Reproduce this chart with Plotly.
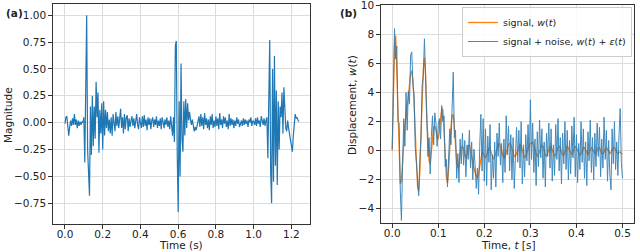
import plotly.graph_objects as go

# ---------------- Panel (a): audio waveform ----------------
dt_a = 0.005
mag_a = [
    -0.01, 0.05, 0.06, -0.05, -0.12, -0.04, 0.02, -0.03, 0.04, -0.02,
    0.08, -0.02, 0.03, -0.05, 0.02, -0.03, 0.01, -0.02, 0.01, 0.00,
    0.05, -0.37, 0.58, 1.00, -0.25, -0.55, -0.68, 0.15, -0.30, 0.25,
    -0.22, 0.15, -0.15, 0.38, 0.05, 0.28, -0.28, 0.12, -0.10, 0.18,
    -0.25, 0.20, -0.12, 0.12, -0.05, 0.10, -0.08, 0.03, -0.10, 0.05,
    -0.12, 0.08, 0.02, -0.08, 0.10, -0.03, 0.06, -0.05, 0.04, 0.13,
    -0.05, 0.05, -0.10, 0.08, -0.06, 0.05, 0.07, -0.08, 0.04, -0.04,
    0.02, 0.06, -0.03, 0.04, -0.05, 0.02, 0.08, -0.02, -0.06, 0.05,
    0.01, -0.05, 0.06, -0.04, 0.07, -0.03, 0.03, -0.07, 0.05, -0.02,
    0.04, -0.06, 0.02, 0.05, -0.04, 0.03, -0.02, 0.06, -0.05, 0.02,
    -0.03, 0.04, -0.06, 0.05, 0.01, -0.05, 0.03, -0.02, 0.05, -0.04,
    0.02, -0.06, 0.06, -0.08, -0.12, 0.05, -0.18, 0.72, 0.76, -0.30,
    -0.83, 0.20, -0.50, 0.55, -0.15, -0.27, 0.20, -0.12, 0.22, -0.05,
    0.18, 0.02, 0.10, 0.03, -0.02, 0.03, -0.06, -0.08, -0.04, -0.07,
    -0.03, 0.02, 0.06, -0.04, 0.08, -0.03, 0.05, -0.06, 0.09, -0.02,
    0.04, -0.05, 0.03, -0.07, 0.06, -0.02, 0.08, -0.05, 0.02, -0.04,
    0.06, -0.03, 0.04, -0.06, 0.09, -0.02, 0.03, -0.05, 0.06, -0.01,
    0.05, -0.04, 0.02, -0.06, 0.08, -0.03, 0.04, -0.02, 0.03, -0.05,
    0.02, -0.03, 0.05, -0.01, 0.03, -0.04, 0.01, 0.02, -0.03, 0.04,
    -0.02, 0.03, -0.01, 0.02, -0.04, 0.03, 0.00, 0.05, -0.03, 0.02,
    0.01, -0.02, 0.04, -0.03, 0.05, -0.01, 0.02, -0.04, 0.06, 0.01,
    -0.02, 0.04, -0.03, 0.02, 0.05, -0.33, 0.47, 0.77, -0.45, -0.75,
    0.50, -0.55, 0.62, -0.40, 0.30, -0.58, 0.20, -0.25, 0.15, 0.05,
    0.28, -0.10, 0.33, 0.05, -0.05, -0.08, 0.02, -0.05, -0.10, -0.15,
    -0.20, -0.27, -0.12, 0.02, 0.08, 0.04, 0.05, 0.02, 0.01,
]
time_a = [round(i * dt_a, 4) for i in range(len(mag_a))]

# ---------------- Panel (b): displacement ----------------
dt_b = 0.0025
signal_b = [
    0.0, 3.5, 7.2, 7.9, 5.5, 2.2, -0.6, -2.3, -2.1, -0.5,
    1.0, 1.8, 2.3, 3.0, 3.8, 4.6, 5.3, 5.5, 4.8, 3.2,
    1.0, -1.2, -2.5, -2.8, -1.5, 1.2, 3.8, 5.6, 6.4, 5.2,
    2.4, 0.3, -0.7, -0.9, -0.1, 1.0, 1.6, 1.7, 1.4, 0.9,
    0.8, 1.4, 2.3, 2.9, 2.8, 1.6, -0.2, -1.8, -2.2, -1.3,
    0.3, 1.6, 2.4, 2.5, 1.6, 0.2, -0.8, -1.2, -0.9, -0.3,
    0.2, 0.3, 0.1, -0.3, -0.5, -0.2, 0.3, 0.4, 0.0, -0.6,
    -1.0, -1.2, -1.5, -1.8, -1.9, -1.6, -1.0, -0.4, -0.1, -0.2,
    -0.4, -0.5, -0.3, 0.0, 0.2, 0.1, -0.2, -0.5, -0.6, -0.4,
    -0.1, 0.2, 0.4, 0.5, 0.3, 0.0, -0.3, -0.5, -0.4, -0.1,
    0.2, 0.4, 0.5, 0.4, 0.1, -0.2, -0.4, -0.4, -0.2, 0.1,
    0.3, 0.4, 0.3, 0.0, -0.3, -0.5, -0.4, -0.1, 0.2, 0.4,
    0.5, 0.5, 0.6, 0.4, 0.1, -0.2, -0.4, -0.3, 0.0, 0.3,
    0.4, 0.3, 0.0, -0.3, -0.4, -0.2, 0.1, 0.3, 0.3, 0.1,
    -0.2, -0.4, -0.3, 0.0, 0.2, 0.3, 0.2, -0.1, -0.3, -0.3,
    -0.1, 0.2, 0.3, 0.2, 0.0, -0.2, -0.3, -0.1, 0.1, 0.3,
    0.2, 0.0, -0.2, -0.3, -0.2, 0.1, 0.2, 0.2, 0.0, -0.2,
    -0.3, -0.1, 0.1, 0.2, 0.1, -0.1, -0.2, -0.2, 0.0, 0.2,
    0.2, 0.0, -0.2, -0.2, -0.1, 0.1, 0.2, 0.1, -0.1, -0.2,
    -0.1, 0.1, 0.2, 0.2, 0.0, -0.1, -0.2, -0.1, -0.1, -0.2,
    -0.2,
]
noisy_b = [
    0.1, 4.0, 8.4, 6.3, 7.2, 2.0, 1.9, -2.7, -4.8, -1.0,
    2.2, 0.3, 4.0, 1.4, 4.1, 3.2, 6.6, 6.8, 4.5, 3.9,
    0.2, -0.8, -2.0, -3.1, -0.6, 0.9, 4.5, 5.1, 7.7, 4.6,
    3.4, -0.4, 0.9, -1.6, 1.0, 2.4, 0.4, 2.6, 1.9, 0.3,
    1.8, 2.2, 0.8, 3.1, 2.0, 2.4, -1.1, -0.6, -2.5, -0.3,
    1.5, 0.4, 3.0, 5.4, 0.9, 1.4, -1.9, -0.2, -2.2, 0.8,
    -0.9, 1.2, -1.0, 0.7, -1.8, 0.4, -0.6, 1.4, -1.2, 0.6,
    -2.0, 0.1, -1.0, -2.6, -1.2, -3.0, 0.3, 2.5, -1.4, 2.2,
    -2.1, 1.5, -2.4, 1.0, -0.8, 1.8, -2.7, -0.3, -1.9, 0.6,
    -2.5, 1.2, -0.4, 1.9, -1.0, 0.5, -2.2, 0.8, -1.5, 2.4,
    -0.3, 1.7, -1.4, 1.1, -2.0, 0.9, -2.6, -0.2, 1.6, -0.8,
    1.4, -1.2, 2.0, -2.3, 0.4, -1.8, 1.1, -0.7, 1.8, -1.0,
    3.5, -0.6, 1.9, -1.5, 0.8, -2.4, 1.3, -1.1, 2.1, -0.5,
    1.5, -1.9, 0.6, -2.5, 1.2, -0.4, 1.9, -1.2, 1.5, -2.1,
    0.4, -1.7, 1.8, -0.6, 2.2, -1.4, 0.9, -2.3, 1.2, -0.9,
    2.0, -1.3, 1.4, -2.0, 0.7, -1.6, 1.7, -0.5, 2.3, -1.8,
    1.1, -2.2, 0.5, -1.3, 2.0, -0.8, 1.5, -1.9, 0.6, -2.4,
    1.3, -0.7, 2.1, -1.5, 0.9, -2.0, 1.2, -1.1, 1.9, -0.4,
    1.6, -1.8, 0.8, -1.2, 2.3, -0.6, 1.4, -2.1, 0.7, -1.6,
    -2.7, 1.5, -0.9, 2.0, -1.3, 0.6, -1.7, 1.1, 2.9, -0.8,
    -1.9,
]
time_b = [round(i * dt_b, 5) for i in range(len(signal_b))]

ticks_a_y = [-0.75, -0.5, -0.25, 0.0, 0.25, 0.5, 0.75, 1.0]
ticks_a_x = [0.0, 0.2, 0.4, 0.6, 0.8, 1.0, 1.2]
ticks_b_y = [-4, -2, 0, 2, 4, 6, 8, 10]
ticks_b_x = [0.0, 0.1, 0.2, 0.3, 0.4, 0.5]

BLUE = "#1f77b4"
ORANGE = "#ff7f0e"
GRID = "#dcdcdc"
FONT = "DejaVu Sans"
W, H = 640, 252

fig = go.Figure()
fig.add_trace(go.Scatter(x=time_a, y=mag_a, mode="lines",
                         line=dict(color=BLUE, width=1.2),
                         xaxis="x", yaxis="y", showlegend=False))
fig.add_trace(go.Scatter(x=time_b, y=signal_b, mode="lines",
                         line=dict(color=ORANGE, width=1.3),
                         name="signal, <i>w</i>(<i>t</i>)",
                         xaxis="x2", yaxis="y2"))
fig.add_trace(go.Scatter(x=time_b, y=noisy_b, mode="lines",
                         line=dict(color=BLUE, width=1.0), opacity=0.85,
                         name="signal + noise, <i>w</i>(<i>t</i>) + <i>ε</i>(<i>t</i>)",
                         xaxis="x2", yaxis="y2"))

def px_x(p):
    return p / W

def px_y(p):
    return 1 - p / H

axis_common = dict(showgrid=True, gridcolor=GRID, gridwidth=1,
                   showline=True, linecolor="#333333", linewidth=1, mirror=True,
                   ticks="outside", ticklen=3.5, tickcolor="#333333",
                   tickfont=dict(family=FONT, size=10.5, color="#222222"),
                   zeroline=False, ticklabeloverflow="allow")

def label(text, x, y, angle=0):
    return dict(text=text, x=px_x(x), y=px_y(y), xref="paper", yref="paper",
                xanchor="center", yanchor="middle", textangle=angle,
                showarrow=False, font=dict(family=FONT, size=10.5, color="#222222"))

fig.update_layout(
    width=W, height=H,
    margin=dict(l=0, r=0, t=0, b=0, autoexpand=False),
    paper_bgcolor="white", plot_bgcolor="white",
    font=dict(family=FONT, size=10.5, color="#222222"),
    xaxis=dict(domain=[px_x(52.7), px_x(310.3)], range=[-0.065, 1.30],
               tickvals=ticks_a_x, tickformat=".1f", anchor="y",
               ticklabelstandoff=-3, **axis_common),
    yaxis=dict(domain=[px_y(224), px_y(4.4)], range=[-0.942, 1.10],
               tickvals=ticks_a_y, tickformat=".2f", anchor="x", **axis_common),
    xaxis2=dict(domain=[px_x(380.7), px_x(634)], range=[-0.025, 0.525],
                tickvals=ticks_b_x, tickformat=".1f", anchor="y2",
                ticklabelstandoff=-3, **axis_common),
    yaxis2=dict(domain=[px_y(223.3), px_y(4.6)], range=[-5, 10.05],
                tickvals=ticks_b_y, anchor="x2", **axis_common),
    legend=dict(x=px_x(632), y=px_y(7), xanchor="right", yanchor="top",
                bgcolor="rgba(255,255,255,0.85)", bordercolor="#cccccc", borderwidth=1,
                font=dict(family=FONT, size=9.5, color="#222222"),
                itemwidth=30, tracegroupgap=0),
    annotations=[
        label("<b>(a)</b>", 14, 13),
        label("<b>(b)</b>", 348, 13),
        label("Magnitude", 8, 115, angle=-90),
        label("Time (s)", 181, 245),
        label("Displacement, <i>w</i>(<i>t</i>)", 352, 105, angle=-90),
        label("Time, <i>t</i> [s]", 508, 245),
    ],
)

fig.write_html(
    "out.html",
    config={"displayModeBar": False},
    post_script="document.body.style.margin='0';document.body.style.overflow='hidden';",
)
